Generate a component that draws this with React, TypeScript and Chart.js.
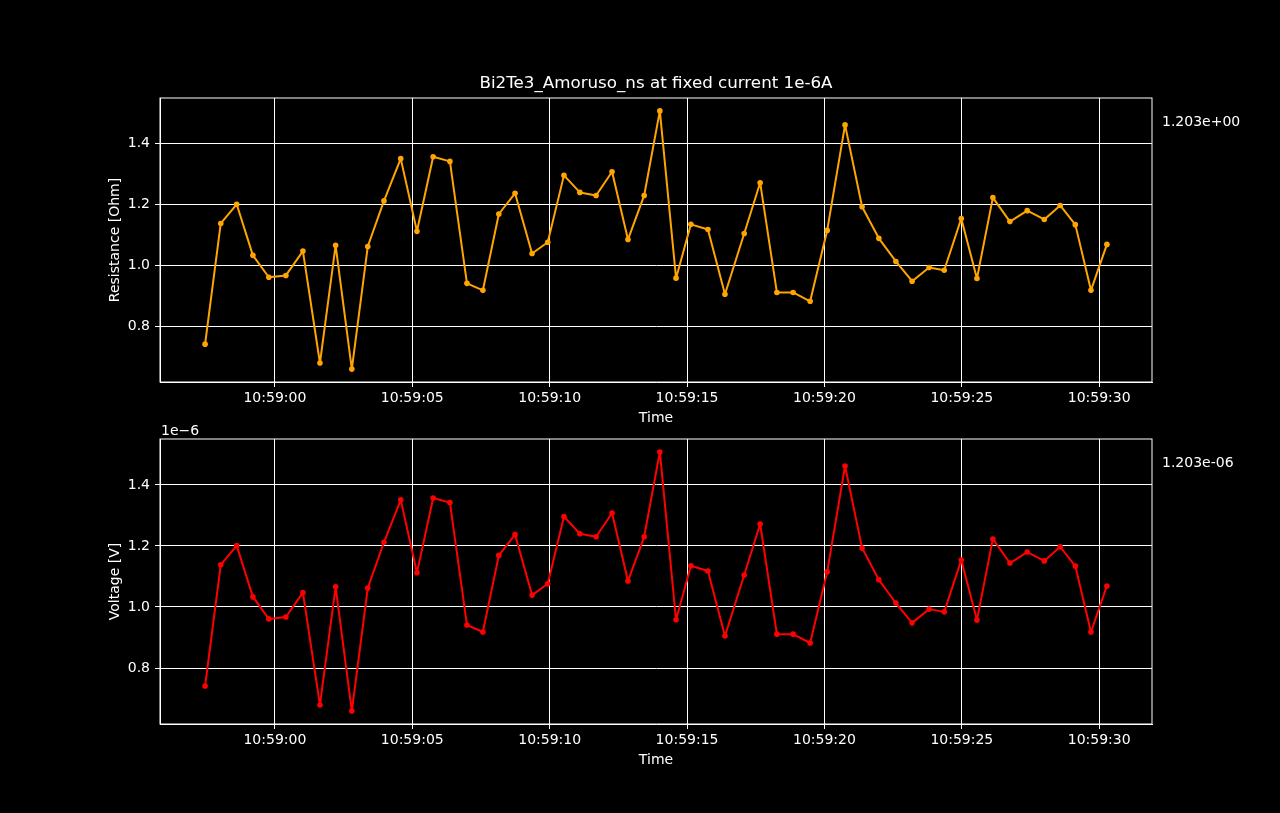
import React, { useEffect, useRef } from 'react';
import { Chart, registerables } from 'chart.js';

Chart.register(...registerables);

const TITLE = 'Bi2Te3_Amoruso_ns at fixed current 1e-6A';

// seconds after 10:59:00
const timeSec = [
  -2.54, -1.97, -1.39, -0.8, -0.22, 0.4, 1.02, 1.64, 2.21, 2.8, 3.38, 3.97, 4.58, 5.17,
  5.76, 6.37, 6.99, 7.57, 8.15, 8.74, 9.36, 9.93, 10.52, 11.1, 11.69, 12.27, 12.85, 13.44,
  14.01, 14.6, 15.14, 15.76, 16.38, 17.08, 17.66, 18.27, 18.86, 19.48, 20.1, 20.75, 21.37,
  21.98, 22.6, 23.19, 23.81, 24.36, 24.98, 25.55, 26.13, 26.75, 27.38, 28.0, 28.58, 29.13,
  29.7, 30.28,
];

const resistanceOhm = [
  0.741, 1.138, 1.201, 1.033, 0.961, 0.967, 1.047, 0.679, 1.066, 0.659, 1.062, 1.212, 1.351, 1.112,
  1.357, 1.342, 0.941, 0.918, 1.169, 1.237, 1.039, 1.076, 1.296, 1.24, 1.23, 1.308, 1.085, 1.23,
  1.508, 0.958, 1.135, 1.118, 0.905, 1.105, 1.272, 0.911, 0.911, 0.882, 1.115, 1.462, 1.193,
  1.089, 1.013, 0.948, 0.993, 0.984, 1.154, 0.957, 1.223, 1.144, 1.18, 1.151, 1.197, 1.134,
  0.918, 1.069,
];

// in units of 1e-6 V
const voltageE6 = [
  0.741, 1.138, 1.201, 1.033, 0.961, 0.967, 1.047, 0.679, 1.066, 0.659, 1.062, 1.212, 1.351, 1.112,
  1.357, 1.342, 0.941, 0.918, 1.169, 1.237, 1.039, 1.076, 1.296, 1.24, 1.23, 1.308, 1.085, 1.23,
  1.508, 0.958, 1.135, 1.118, 0.905, 1.105, 1.272, 0.911, 0.911, 0.882, 1.115, 1.462, 1.193,
  1.089, 1.013, 0.948, 0.993, 0.984, 1.154, 0.957, 1.223, 1.144, 1.18, 1.151, 1.197, 1.134,
  0.918, 1.069,
];

const xTickSec = [0, 5, 10, 15, 20, 25, 30];
const xTickLabels = ['10:59:00', '10:59:05', '10:59:10', '10:59:15', '10:59:20', '10:59:25', '10:59:30'];
const yTicks = [0.8, 1.0, 1.2, 1.4];
const yTickLabels = ['0.8', '1.0', '1.2', '1.4'];

const W = 1280;
const H = 813;
const FONT = '"DejaVu Sans", sans-serif';
const X_AXIS_H = 45;

interface PanelProps {
  values: number[];
  color: string;
  yLabel: string;
  top: number;
  bottom: number;
  sideText: string;
  offsetText?: string;
  title?: string;
}

const Panel: React.FC<PanelProps> = ({ values, color, yLabel, top, bottom, sideText, offsetText, title }) => {
  const canvasRef = useRef<HTMLCanvasElement>(null);
  const chartRef = useRef<Chart | null>(null);

  useEffect(() => {
    if (!canvasRef.current) return;
    if (chartRef.current) chartRef.current.destroy();

    // matplotlib-like 5% margins
    const tMin = Math.min(...timeSec);
    const tMax = Math.max(...timeSec);
    const vMin = Math.min(...values);
    const vMax = Math.max(...values);
    const tPad = (tMax - tMin) * 0.05;
    const vPad = (vMax - vMin) * 0.05;

    const extras = {
      id: 'extras',
      afterDraw(chart: Chart) {
        const { ctx, chartArea: a } = chart;
        ctx.save();
        ctx.strokeStyle = '#fff';
        ctx.lineWidth = 1;
        ctx.strokeRect(a.left, a.top, a.right - a.left, a.bottom - a.top);
        ctx.fillStyle = '#fff';
        ctx.textBaseline = 'middle';
        ctx.font = `14px ${FONT}`;
        ctx.textAlign = 'left';
        ctx.fillText(sideText, a.right + 10, a.top + 24);
        if (offsetText) ctx.fillText(offsetText, a.left + 1, a.top - 8);
        if (title) {
          ctx.font = `16.7px ${FONT}`;
          ctx.textAlign = 'center';
          ctx.fillText(title, (a.left + a.right) / 2, a.top - 14);
        }
        ctx.restore();
      },
    };

    const grid = { color: '#fff', lineWidth: 1, drawTicks: true, tickLength: 5, tickColor: '#fff' };
    const border = { color: '#fff', width: 1 };
    const tickFont = { family: FONT, size: 14 };

    chartRef.current = new Chart(canvasRef.current, {
      type: 'line',
      data: {
        datasets: [
          {
            data: timeSec.map((t, i) => ({ x: t, y: values[i] })),
            borderColor: color,
            backgroundColor: color,
            borderWidth: 2,
            borderJoinStyle: 'round',
            borderCapStyle: 'round',
            pointRadius: 2.8,
            pointBorderWidth: 0,
            pointHoverRadius: 2.8,
            tension: 0,
          },
        ],
      },
      options: {
        animation: false,
        responsive: true,
        maintainAspectRatio: false,
        events: [],
        layout: { padding: { left: 100, right: W - 1152, top, bottom: H - bottom - X_AXIS_H } },
        plugins: { legend: { display: false }, tooltip: { enabled: false }, title: { display: false } },
        scales: {
          x: {
            type: 'linear',
            min: tMin - tPad,
            max: tMax + tPad,
            afterBuildTicks: (s: any) => {
              s.ticks = xTickSec.map((v) => ({ value: v }));
            },
            afterFit: (s: any) => {
              s.height = X_AXIS_H;
            },
            ticks: {
              color: '#fff',
              font: tickFont,
              padding: 3,
              maxRotation: 0,
              autoSkip: false,
              callback: (_v: any, i: number) => xTickLabels[i],
            },
            grid,
            border,
            title: { display: true, text: 'Time', color: '#fff', font: tickFont, padding: { top: 0, bottom: 0 } },
          },
          y: {
            type: 'linear',
            min: vMin - vPad,
            max: vMax + vPad,
            afterBuildTicks: (s: any) => {
              s.ticks = yTicks.map((v) => ({ value: v }));
            },
            afterFit: (s: any) => {
              s.width = 60;
            },
            ticks: {
              color: '#fff',
              font: tickFont,
              padding: 5,
              callback: (_v: any, i: number) => yTickLabels[i],
            },
            grid,
            border,
            title: { display: true, text: yLabel, color: '#fff', font: tickFont, padding: { top: 7, bottom: 0 } },
          },
        },
      },
      plugins: [extras],
    } as any);

    return () => {
      if (chartRef.current) {
        chartRef.current.destroy();
        chartRef.current = null;
      }
    };
  }, [values, color, yLabel, top, bottom, sideText, offsetText, title]);

  return (
    <div style={{ position: 'absolute', left: 0, top: 0, width: W, height: H }}>
      <canvas ref={canvasRef}></canvas>
    </div>
  );
};

const App: React.FC = () => {
  return (
    <div style={{ position: 'fixed', left: 0, top: 0, width: W, height: H, background: '#000' }}>
      <Panel
        values={resistanceOhm}
        color="#ffa500"
        yLabel="Resistance [Ohm]"
        top={98}
        bottom={382}
        sideText="1.203e+00"
        title={TITLE}
      />
      <Panel
        values={voltageE6}
        color="#ff0000"
        yLabel="Voltage [V]"
        top={439}
        bottom={724}
        sideText="1.203e-06"
        offsetText={'1e\u22126'}
      />
    </div>
  );
};

export default App;
